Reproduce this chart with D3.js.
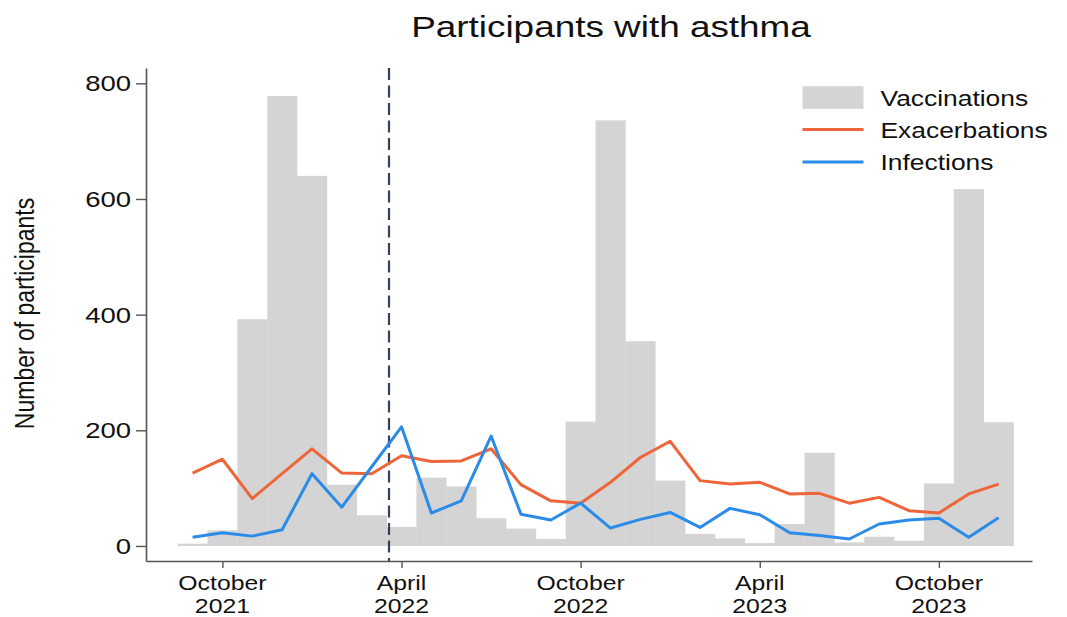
<!DOCTYPE html>
<html>
<head>
<meta charset="utf-8">
<script src="https://cdn.jsdelivr.net/npm/d3@7"></script>
<style>
  html, body { margin: 0; padding: 0; background: #fff; }
  svg { display: block; }
  text { font-family: "Liberation Sans", Arial, Helvetica, sans-serif; fill: #111; }
</style>
</head>
<body>
<svg id="chart" width="1067" height="617"></svg>
<script>
// Monthly counts, September 2021 to December 2023
const months = [
  "2021-09", "2021-10", "2021-11", "2021-12",
  "2022-01", "2022-02", "2022-03", "2022-04", "2022-05", "2022-06",
  "2022-07", "2022-08", "2022-09", "2022-10", "2022-11", "2022-12",
  "2023-01", "2023-02", "2023-03", "2023-04", "2023-05", "2023-06",
  "2023-07", "2023-08", "2023-09", "2023-10", "2023-11", "2023-12"
];
const vaccinations = [4, 27, 392, 778, 640, 106, 53, 33, 118, 103, 48, 30, 12, 215,
                      736, 354, 113, 21, 13, 5, 38, 161, 6, 16, 9, 108, 617, 214];
const exacerbations = [126, 150, 82, 125, 168, 126, 125, 156, 146, 147, 168, 106, 78, 74,
                       110, 153, 181, 113, 107, 110, 90, 91, 74, 84, 61, 57, 90, 107];
const infections = [15, 23, 17, 28, 125, 67, 137, 206, 57, 78, 190, 55, 45, 74,
                    31, 46, 58, 32, 65, 54, 23, 18, 12, 38, 45, 48, 15, 49];

// Axis ticks
const xTickMonths = ["2021-10", "2022-04", "2022-10", "2023-04", "2023-10"];
const xTickLabels = [["October", "2021"], ["April", "2022"], ["October", "2022"],
                     ["April", "2023"], ["October", "2023"]];
const yTickValues = [0, 200, 400, 600, 800];

// Reference date marked with the dashed vertical line
const markerDate = "2022-03-19";

const seriesColors = { vaccinations: "#d4d4d4", exacerbations: "#ee653a", infections: "#2b8be8" };
const legendItems = [
  { label: "Vaccinations", kind: "bar", color: seriesColors.vaccinations },
  { label: "Exacerbations", kind: "line", color: seriesColors.exacerbations },
  { label: "Infections", kind: "line", color: seriesColors.infections }
];

const svg = d3.select("#chart");

// Month index helpers (month positions are evenly spaced)
const parseMonth = d3.timeParse("%Y-%m");
const parseDay = d3.timeParse("%Y-%m-%d");
const start = parseMonth(months[0]);
const monthIndex = s => d3.timeMonth.count(start, parseMonth(s));
const dateIndex = s => {
  const d = parseDay(s);
  const m0 = d3.timeMonth.floor(d);
  const m1 = d3.timeMonth.offset(m0, 1);
  return d3.timeMonth.count(start, m0) + (d - m0) / (m1 - m0);
};

const x = d3.scaleLinear().domain([-1.56, 28.12]).range([146, 1032]);
const y = d3.scaleLinear().domain([-26, 826.5]).range([561, 68]);

// Bars: one per month, each one month wide, centred on the month
svg.append("g")
  .selectAll("rect")
  .data(vaccinations)
  .join("rect")
  .attr("x", (d, i) => x(i - 0.5))
  .attr("width", (d, i) => x(i + 0.5) - x(i - 0.5) + 0.3)
  .attr("y", d => y(d))
  .attr("height", d => y(0) - y(d))
  .attr("fill", seriesColors.vaccinations);

// Dashed vertical marker
const mx = x(dateIndex(markerDate));
svg.append("line")
  .attr("x1", mx).attr("x2", mx)
  .attr("y1", y.range()[1]).attr("y2", y.range()[0])
  .attr("stroke", "#33415e")
  .attr("stroke-width", 2.2)
  .attr("stroke-dasharray", "12,5.5");

// Lines
const line = d3.line().x((d, i) => x(i)).y(d => y(d));
[["exacerbations", exacerbations], ["infections", infections]].forEach(([key, vals]) => {
  svg.append("path")
    .datum(vals)
    .attr("d", line)
    .attr("fill", "none")
    .attr("stroke", seriesColors[key])
    .attr("stroke-width", 3)
    .attr("stroke-linejoin", "round");
});

// Text helper: horizontally widened glyphs
function wideText(g, tx, ty, str, size, sx, anchor) {
  return g.append("text")
    .attr("transform", `translate(${tx},${ty}) scale(${sx},1)`)
    .attr("text-anchor", anchor || "start")
    .attr("font-size", size)
    .text(str);
}

// Y axis
const yAxis = svg.append("g")
  .attr("transform", "translate(146,0)")
  .call(d3.axisLeft(y).tickValues(yTickValues).tickSize(10).tickSizeOuter(0).tickFormat(""));
yAxis.select(".domain").attr("stroke", "#555").attr("stroke-width", 1.6);
yAxis.selectAll(".tick line").attr("stroke", "#555").attr("stroke-width", 1.4);
yTickValues.forEach(v => {
  wideText(svg, 131, y(v) + 8, d3.format("d")(v), 22, 1.25, "end");
});

// X axis with two-line month / year labels
const xAxis = svg.append("g")
  .attr("transform", "translate(0,561)")
  .call(d3.axisBottom(x).tickValues(xTickMonths.map(monthIndex)).tickSize(7).tickSizeOuter(0).tickFormat(""));
xAxis.select(".domain").attr("stroke", "#555").attr("stroke-width", 1.6);
xAxis.selectAll(".tick line").attr("stroke", "#555").attr("stroke-width", 1.4);
xTickMonths.forEach((m, i) => {
  const tx = x(monthIndex(m));
  wideText(svg, tx, 590, xTickLabels[i][0], 20, 1.24, "middle");
  wideText(svg, tx, 612.5, xTickLabels[i][1], 20, 1.24, "middle");
});

// Y axis title
svg.append("text")
  .attr("transform", "translate(34,313.5) rotate(-90) scale(1,1.2)")
  .attr("text-anchor", "middle")
  .attr("font-size", 23)
  .text("Number of participants");

// Title
wideText(svg, 611, 37, "Participants with asthma", 30, 1.23, "middle");

// Legend
const legend = svg.append("g");
const legendRows = [97.5, 129.5, 162];
legendItems.forEach((item, i) => {
  const cy = legendRows[i];
  if (item.kind === "bar") {
    legend.append("rect")
      .attr("x", 802.5).attr("y", cy - 11.3)
      .attr("width", 61).attr("height", 22.6)
      .attr("fill", item.color);
  } else {
    legend.append("line")
      .attr("x1", 802.5).attr("x2", 863.5)
      .attr("y1", cy).attr("y2", cy)
      .attr("stroke", item.color).attr("stroke-width", 3);
  }
  wideText(legend, 880.5, cy + 8, item.label, 22, 1.2, "start");
});
</script>
</body>
</html>
